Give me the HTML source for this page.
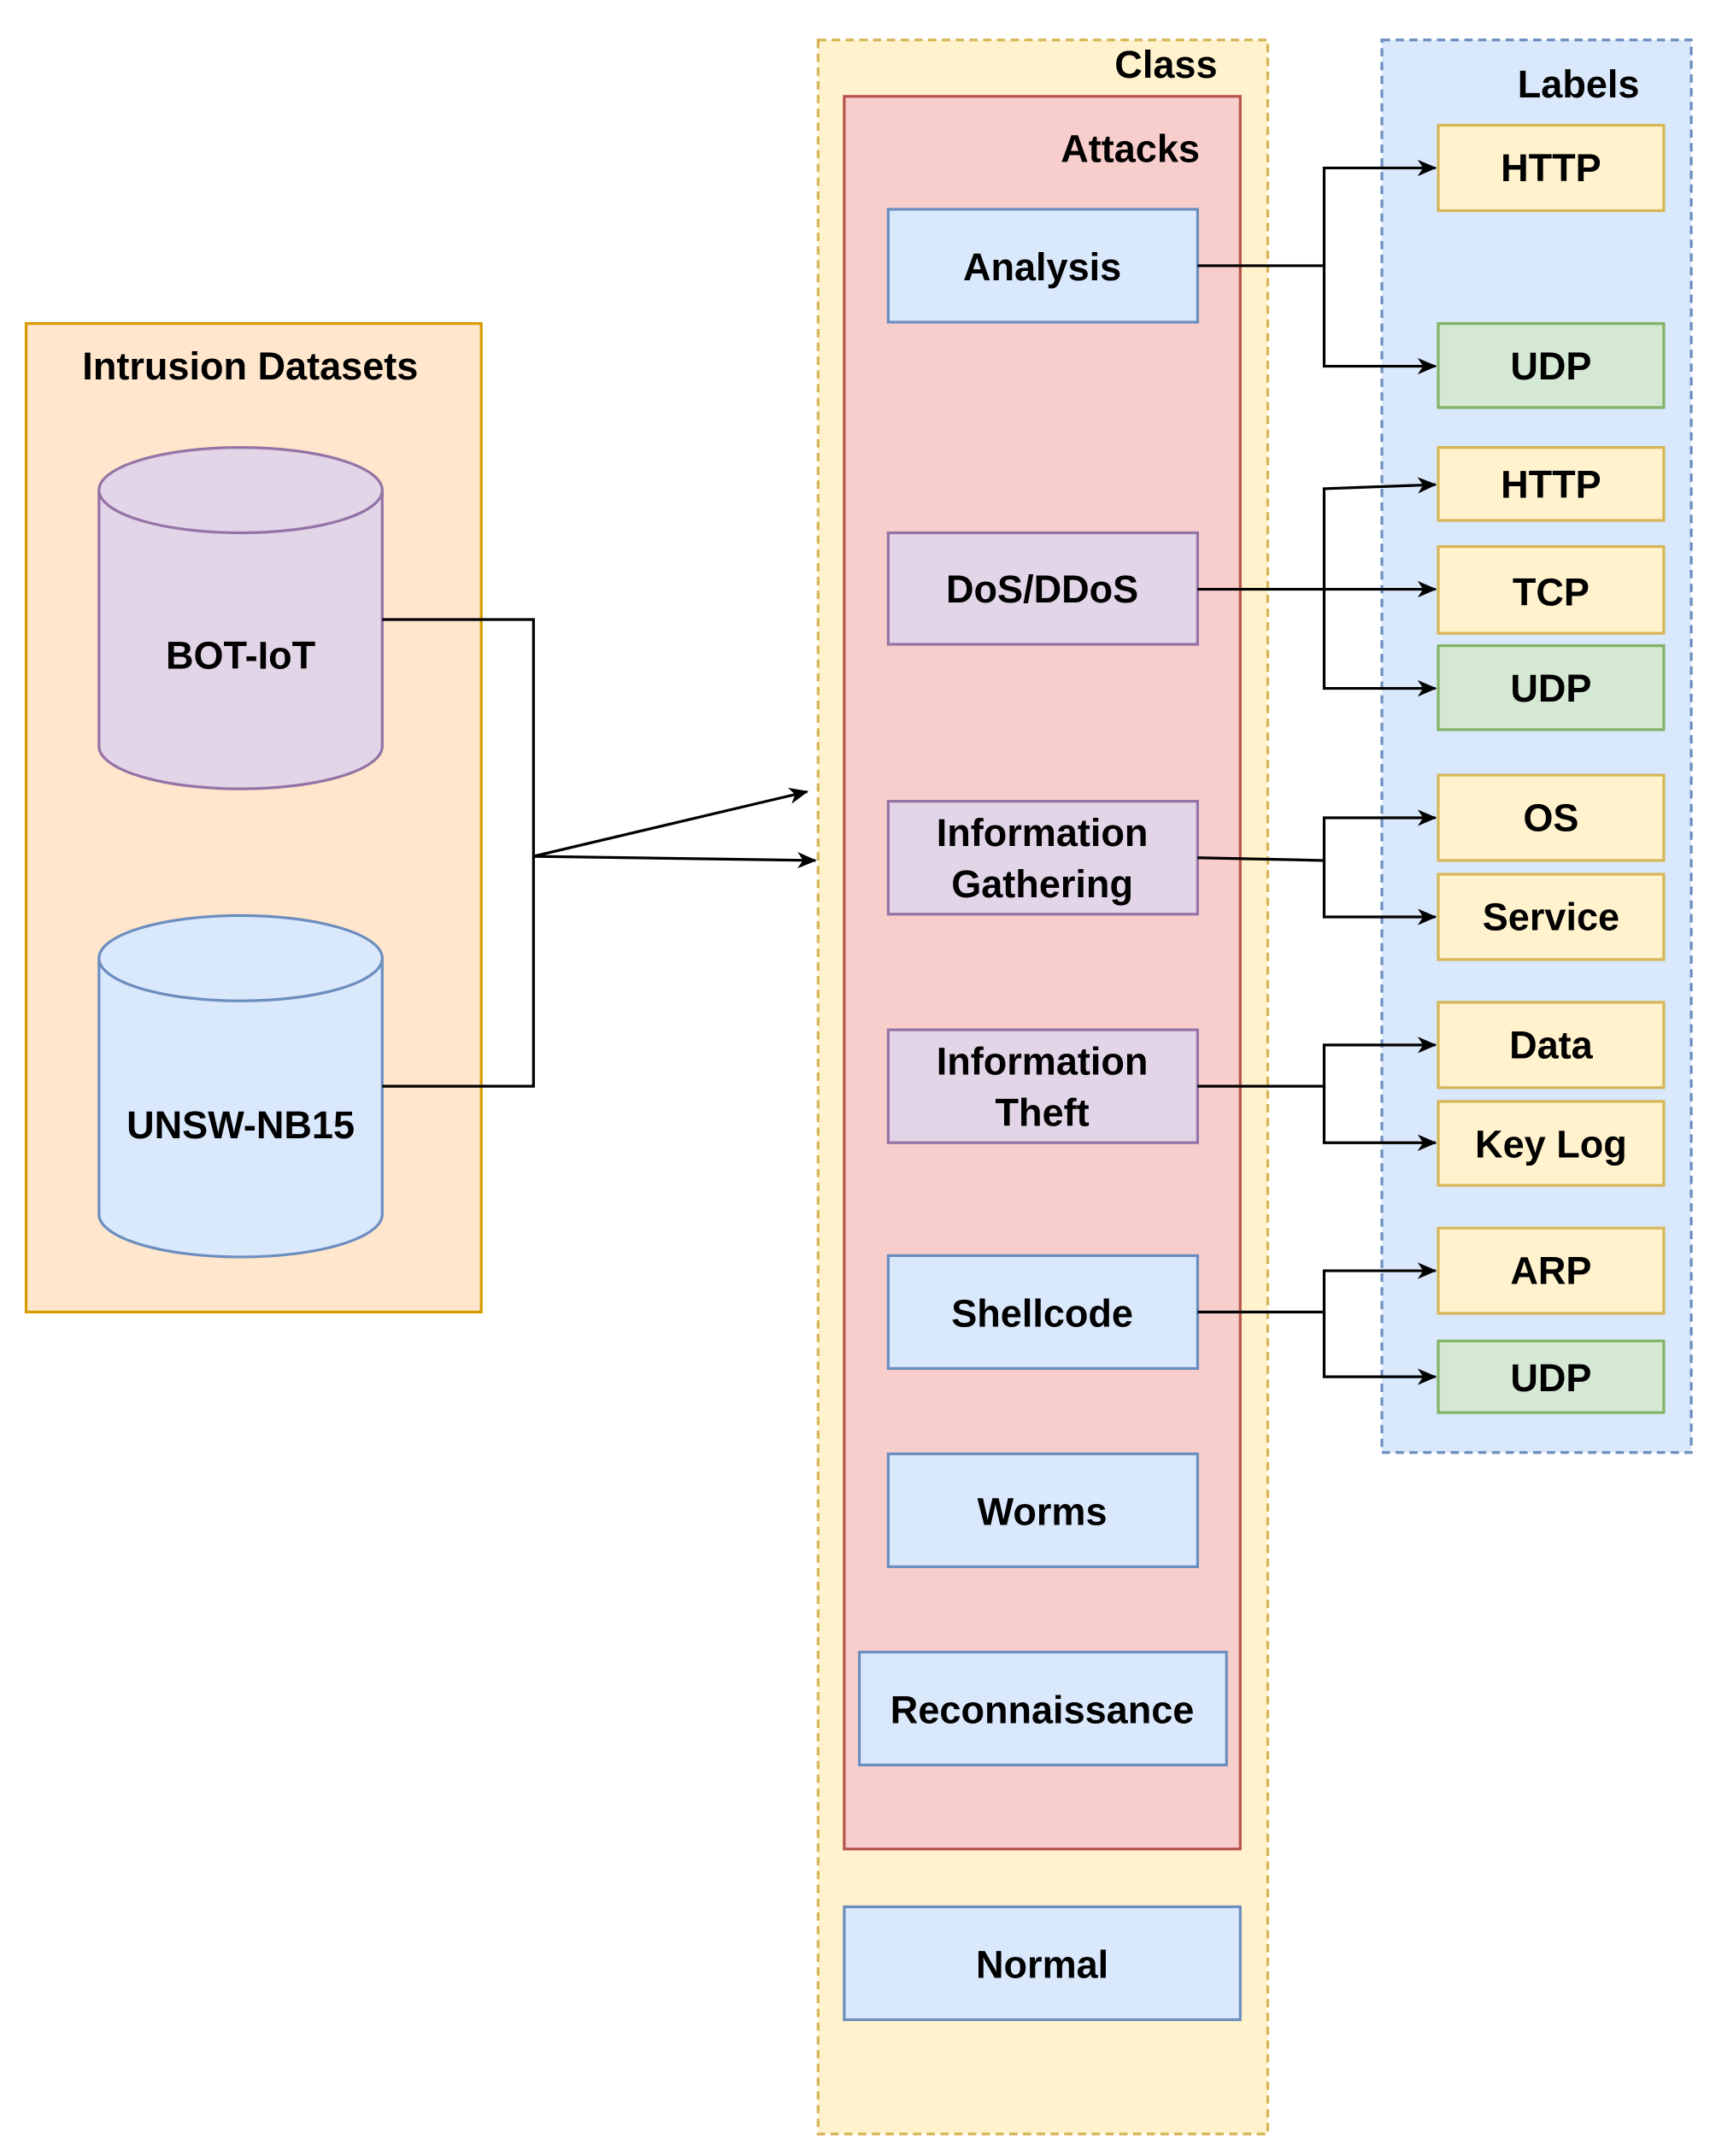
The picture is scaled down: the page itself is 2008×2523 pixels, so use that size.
<!DOCTYPE html>
<html><head><meta charset="utf-8"><style>
html,body{margin:0;padding:0;background:#fff;}
svg{display:block}
text{font-family:"Liberation Sans",sans-serif;font-weight:bold;fill:#000;text-anchor:middle;dominant-baseline:central;}
</style></head><body>
<svg width="2008" height="2523" viewBox="0 0 1248 1566" preserveAspectRatio="none" xmlns="http://www.w3.org/2000/svg">
<defs><marker id="a" markerWidth="14" markerHeight="12" refX="13" refY="6" orient="auto" markerUnits="userSpaceOnUse"><path d="M0,0 L14,6 L0,12 L4,6 Z" fill="#000"/></marker></defs>
<rect x="19" y="235" width="331" height="718" fill="#ffe6cc" stroke="#d79b00" stroke-width="2"/>
<text x="182" y="266" font-size="28">Intrusion Datasets</text>
<path d="M72,356 L72,542 A103,31 0 0 0 278,542 L278,356" fill="#e1d5e7" stroke="#9673a6" stroke-width="2"/>
<ellipse cx="175" cy="356" rx="103" ry="31" fill="#e1d5e7" stroke="#9673a6" stroke-width="2"/>
<text x="175" y="476" font-size="28">BOT-IoT</text>
<path d="M72,696 L72,882 A103,31 0 0 0 278,882 L278,696" fill="#dae8fc" stroke="#6c8ebf" stroke-width="2"/>
<ellipse cx="175" cy="696" rx="103" ry="31" fill="#dae8fc" stroke="#6c8ebf" stroke-width="2"/>
<text x="175" y="817" font-size="28">UNSW-NB15</text>
<path d="M278,450 H388 V789 H278" fill="none" stroke="#000" stroke-width="2"/>
<path d="M388,622 L587,575" fill="none" stroke="#000" stroke-width="2" marker-end="url(#a)"/>
<path d="M388,622 L593,625" fill="none" stroke="#000" stroke-width="2" marker-end="url(#a)"/>
<rect x="595" y="29" width="327" height="1521" fill="#fff2cc" stroke="#d6b656" stroke-width="2" stroke-dasharray="6,4"/>
<text x="848" y="47" font-size="28">Class</text>
<rect x="614" y="70" width="288" height="1273" fill="#f8cecc" stroke="#b85450" stroke-width="2"/>
<text x="822" y="108" font-size="28">Attacks</text>
<g stroke-width="2">
<rect x="646" y="152" width="225" height="82" fill="#dae8fc" stroke="#6c8ebf"/>
<text x="758" y="194" font-size="28">Analysis</text>
<rect x="646" y="387" width="225" height="81" fill="#e1d5e7" stroke="#9673a6"/>
<text x="758" y="428" font-size="28">DoS/DDoS</text>
<rect x="646" y="582" width="225" height="82" fill="#e1d5e7" stroke="#9673a6"/>
<text x="758" y="605" font-size="28">Information</text>
<text x="758" y="642" font-size="28">Gathering</text>
<rect x="646" y="748" width="225" height="82" fill="#e1d5e7" stroke="#9673a6"/>
<text x="758" y="771" font-size="28">Information</text>
<text x="758" y="808" font-size="28">Theft</text>
<rect x="646" y="912" width="225" height="82" fill="#dae8fc" stroke="#6c8ebf"/>
<text x="758" y="954" font-size="28">Shellcode</text>
<rect x="646" y="1056" width="225" height="82" fill="#dae8fc" stroke="#6c8ebf"/>
<text x="758" y="1098" font-size="28">Worms</text>
<rect x="625" y="1200" width="267" height="82" fill="#dae8fc" stroke="#6c8ebf"/>
<text x="758" y="1242" font-size="28">Reconnaissance</text>
<rect x="614" y="1385" width="288" height="82" fill="#dae8fc" stroke="#6c8ebf"/>
<text x="758" y="1427" font-size="28">Normal</text>
</g>
<rect x="1005" y="29" width="225" height="1026" fill="#dae8fc" stroke="#6c8ebf" stroke-width="2" stroke-dasharray="6,4"/>
<text x="1148" y="61" font-size="28">Labels</text>
<g stroke-width="2">
<rect x="1046" y="91" width="164" height="62" fill="#fff2cc" stroke="#d6b656"/><text x="1128" y="122" font-size="28">HTTP</text>
<rect x="1046" y="235" width="164" height="61" fill="#d5e8d4" stroke="#82b366"/><text x="1128" y="266" font-size="28">UDP</text>
<rect x="1046" y="325" width="164" height="53" fill="#fff2cc" stroke="#d6b656"/><text x="1128" y="352" font-size="28">HTTP</text>
<rect x="1046" y="397" width="164" height="63" fill="#fff2cc" stroke="#d6b656"/><text x="1128" y="430" font-size="28">TCP</text>
<rect x="1046" y="469" width="164" height="61" fill="#d5e8d4" stroke="#82b366"/><text x="1128" y="500" font-size="28">UDP</text>
<rect x="1046" y="563" width="164" height="62" fill="#fff2cc" stroke="#d6b656"/><text x="1128" y="594" font-size="28">OS</text>
<rect x="1046" y="635" width="164" height="62" fill="#fff2cc" stroke="#d6b656"/><text x="1128" y="666" font-size="28">Service</text>
<rect x="1046" y="728" width="164" height="62" fill="#fff2cc" stroke="#d6b656"/><text x="1128" y="759" font-size="28">Data</text>
<rect x="1046" y="800" width="164" height="61" fill="#fff2cc" stroke="#d6b656"/><text x="1128" y="831" font-size="28">Key Log</text>
<rect x="1046" y="892" width="164" height="62" fill="#fff2cc" stroke="#d6b656"/><text x="1128" y="923" font-size="28">ARP</text>
<rect x="1046" y="974" width="164" height="52" fill="#d5e8d4" stroke="#82b366"/><text x="1128" y="1001" font-size="28">UDP</text>
</g>
<g fill="none" stroke="#000" stroke-width="2">
<path d="M871,193 H963 V122 H1044" marker-end="url(#a)"/>
<path d="M963,193 V266 H1044" marker-end="url(#a)"/>
<path d="M871,428 H1044" marker-end="url(#a)"/>
<path d="M963,428 V355 L1044,352" marker-end="url(#a)"/>
<path d="M963,428 V500 H1044" marker-end="url(#a)"/>
<path d="M871,623 L963,625 V594 H1044" marker-end="url(#a)"/>
<path d="M963,625 V666 H1044" marker-end="url(#a)"/>
<path d="M871,789 H963 V759 H1044" marker-end="url(#a)"/>
<path d="M963,789 V830 H1044" marker-end="url(#a)"/>
<path d="M871,953 H963 V923 H1044" marker-end="url(#a)"/>
<path d="M963,953 V1000 H1044" marker-end="url(#a)"/>
</g>
</svg>
</body></html>
